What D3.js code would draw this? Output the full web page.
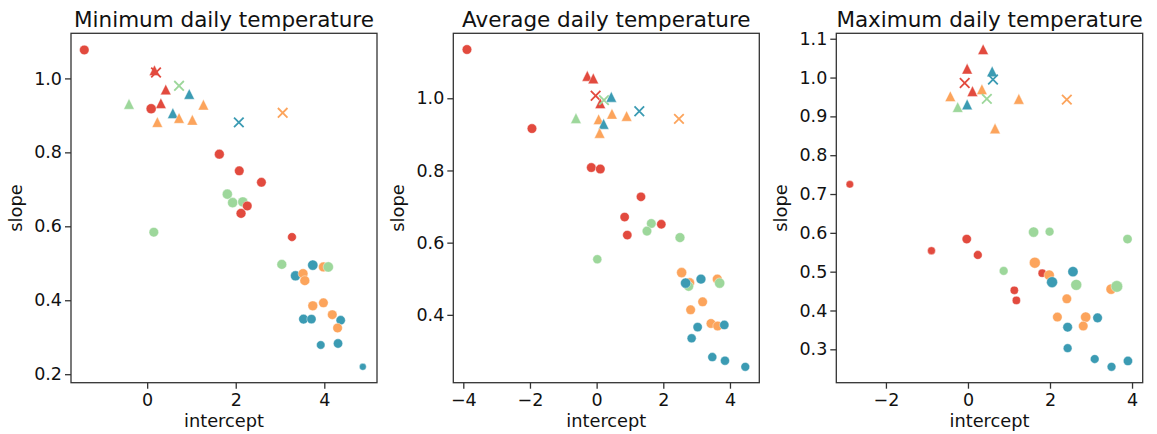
<!DOCTYPE html>
<meta charset="utf-8">
<html>
<head>
<style>
  body { margin: 0; background: #fff; }
  svg { font-family: "DejaVu Sans", sans-serif; }
  .tick text { font-size: 17.5px; fill: #111; }
  .title { font-size: 21.5px; fill: #111; }
  .lab { font-size: 17.8px; fill: #111; }
</style>
</head>
<body>
<svg width="1157" height="434" id="chart"></svg>
<script src="https://d3js.org/d3.v7.min.js"></script>
<script>
// groups (colour) and marker kinds
var groups = ["g1", "g2", "g3", "g4"];
var groupColors = ["#e24a3e", "#fca45c", "#9dd79b", "#3b9bb3"];

// rows: [intercept, slope, group, kind, weight]
var minData = [
  [0.165, 1.022, 0, "^"], [0.20, 1.016, 0, "x"], [0.72, 0.98, 2, "x"], [0.42, 0.970, 0, "^"],
  [0.95, 0.958, 3, "^"], [-0.41, 0.931, 2, "^"], [0.31, 0.933, 0, "^"], [1.27, 0.929, 1, "^"],
  [0.58, 0.906, 3, "^"], [0.72, 0.893, 1, "^"], [1.02, 0.888, 1, "^"], [0.23, 0.882, 1, "^"],
  [2.07, 0.881, 3, "x"], [3.06, 0.907, 1, "x"],
  [-1.42, 1.077, 0, "o", 19], [0.09, 0.918, 0, "o", 21], [1.63, 0.795, 0, "o", 20],
  [2.08, 0.750, 0, "o", 19], [2.58, 0.719, 0, "o", 19], [1.81, 0.687, 2, "o", 21],
  [1.93, 0.664, 2, "o", 21], [2.16, 0.666, 2, "o", 21], [2.26, 0.655, 0, "o", 19],
  [2.12, 0.635, 0, "o", 20], [0.15, 0.584, 2, "o", 19], [3.27, 0.571, 0, "o", 16],
  [3.04, 0.497, 2, "o", 20], [3.35, 0.466, 3, "o", 21], [3.74, 0.495, 3, "o", 22],
  [3.52, 0.472, 1, "o", 20], [3.56, 0.453, 1, "o", 20], [3.98, 0.490, 1, "o", 20],
  [4.09, 0.490, 2, "o", 22], [3.53, 0.349, 3, "o", 19], [3.71, 0.349, 3, "o", 18],
  [4.37, 0.346, 3, "o", 18], [3.92, 0.279, 3, "o", 15], [4.31, 0.283, 3, "o", 18],
  [4.87, 0.220, 3, "o", 10], [3.74, 0.385, 1, "o", 20], [3.98, 0.393, 1, "o", 19],
  [4.18, 0.361, 1, "o", 19], [4.30, 0.325, 1, "o", 19]
];

var avgData = [
  [-0.28, 1.062, 0, "^"], [-0.10, 1.055, 0, "^"], [-0.03, 1.007, 0, "x"], [0.11, 0.986, 0, "^"],
  [0.22, 0.995, 2, "x"], [0.44, 1.004, 3, "^"], [1.28, 0.964, 3, "x"], [2.47, 0.943, 1, "x"],
  [-0.62, 0.945, 2, "^"], [0.06, 0.942, 1, "^"], [0.46, 0.957, 1, "^"], [0.90, 0.951, 1, "^"],
  [0.21, 0.929, 3, "^"], [0.09, 0.904, 1, "^"],
  [-3.89, 1.135, 0, "o", 19], [-1.94, 0.916, 0, "o", 19], [-0.16, 0.808, 0, "o", 19],
  [0.11, 0.804, 0, "o", 19], [1.33, 0.727, 0, "o", 18], [0.84, 0.671, 0, "o", 18],
  [1.94, 0.651, 0, "o", 18], [0.92, 0.621, 0, "o", 18], [1.64, 0.653, 2, "o", 19],
  [1.51, 0.632, 2, "o", 19], [2.50, 0.614, 2, "o", 20], [0.02, 0.554, 2, "o", 17],
  [2.55, 0.517, 1, "o", 21], [3.62, 0.499, 1, "o", 20], [2.79, 0.489, 1, "o", 20],
  [3.18, 0.436, 1, "o", 19], [2.82, 0.414, 1, "o", 19], [3.43, 0.376, 1, "o", 19],
  [3.63, 0.369, 1, "o", 19], [2.76, 0.479, 2, "o", 20], [3.69, 0.488, 2, "o", 22],
  [3.13, 0.499, 3, "o", 20], [2.67, 0.488, 3, "o", 22], [3.03, 0.366, 3, "o", 18],
  [3.83, 0.372, 3, "o", 18], [2.85, 0.335, 3, "o", 17], [3.47, 0.283, 3, "o", 17],
  [3.85, 0.273, 3, "o", 17], [4.46, 0.256, 3, "o", 16]
];

var maxData = [
  [0.37, 1.073, 0, "^"], [-0.02, 1.023, 0, "^"], [0.59, 1.016, 3, "^"], [0.61, 0.995, 3, "x"],
  [-0.08, 0.986, 0, "x"], [0.11, 0.965, 0, "^"], [0.34, 0.970, 1, "^"], [-0.43, 0.952, 1, "^"],
  [-0.25, 0.924, 2, "^"], [-0.02, 0.931, 3, "^"], [0.46, 0.945, 2, "x"], [1.24, 0.945, 1, "^"],
  [2.41, 0.943, 1, "x"], [0.66, 0.869, 1, "^"],
  [-2.88, 0.725, 0, "o", 12], [-0.89, 0.554, 0, "o", 13], [-0.03, 0.584, 0, "o", 18],
  [0.24, 0.543, 0, "o", 16], [1.81, 0.496, 0, "o", 14], [1.13, 0.452, 0, "o", 14],
  [1.18, 0.426, 0, "o", 14], [0.87, 0.502, 2, "o", 16], [1.60, 0.602, 2, "o", 22],
  [1.99, 0.603, 2, "o", 16], [3.89, 0.584, 2, "o", 18], [1.63, 0.523, 1, "o", 25],
  [1.98, 0.491, 1, "o", 22], [2.41, 0.430, 1, "o", 19], [2.18, 0.383, 1, "o", 19],
  [2.87, 0.383, 1, "o", 22], [2.81, 0.360, 1, "o", 19], [3.49, 0.455, 1, "o", 22],
  [2.05, 0.473, 3, "o", 25], [2.56, 0.500, 3, "o", 22], [2.43, 0.357, 3, "o", 19],
  [3.16, 0.381, 3, "o", 19], [2.43, 0.303, 3, "o", 16], [3.09, 0.275, 3, "o", 16],
  [3.50, 0.255, 3, "o", 16], [3.90, 0.270, 3, "o", 18], [2.64, 0.466, 2, "o", 25],
  [3.63, 0.462, 2, "o", 28]
];

var titles = ["Minimum daily temperature", "Average daily temperature", "Maximum daily temperature"];
var xTickValues = [[0, 2, 4], [-4, -2, 0, 2, 4], [-2, 0, 2, 4]];
var yTickValues = [[0.2, 0.4, 0.6, 0.8, 1.0], [0.4, 0.6, 0.8, 1.0], [0.3, 0.4, 0.5, 0.6, 0.7, 0.8, 0.9, 1.0, 1.1]];

var svg = d3.select("#chart");
var top0 = 33.3, bottom0 = 382.7;
var panels = [
  { data: minData, left: 71, right: 377, xd: [-1.72, 5.19], yd: [0.177, 1.122] },
  { data: avgData, left: 453.3, right: 759.3, xd: [-4.30, 4.88], yd: [0.212, 1.180] },
  { data: maxData, left: 836.3, right: 1142.7, xd: [-3.21, 4.26], yd: [0.214, 1.114] }
];

var fmtX = function (d) { return d < 0 ? "\u2212" + Math.abs(d) : "" + d; };
var fmtY = d3.format(".1f");

// matplotlib style "^": width == height
var tri = function (h) { return "M0," + (-h) + "L" + h + "," + h + "L" + (-h) + "," + h + "Z"; };
var cross = function (h) { return "M" + (-h) + "," + (-h) + "L" + h + "," + h + "M" + (-h) + "," + h + "L" + h + "," + (-h); };

panels.forEach(function (p, i) {
  var x = d3.scaleLinear().domain(p.xd).range([p.left, p.right]);
  var y = d3.scaleLinear().domain(p.yd).range([bottom0, top0]);
  var g = svg.append("g");

  // markers
  var pts = g.append("g");
  p.data.forEach(function (d) {
    var col = groupColors[d[2]];
    var node = pts.append("path")
      .attr("transform", "translate(" + x(d[0]) + "," + y(d[1]) + ")");
    if (d[3] === "o") {
      node.attr("d", d3.symbol().type(d3.symbolCircle).size(Math.PI * d[4] * 1.2)())
        .attr("fill", col).attr("stroke", "#fff").attr("stroke-width", 0.4);
    } else if (d[3] === "^") {
      node.attr("d", tri(5.3))
        .attr("fill", col).attr("stroke", "#fff").attr("stroke-width", 0.4);
    } else {
      node.attr("d", cross(4.8))
        .attr("fill", "none").attr("stroke", col).attr("stroke-width", 1.8);
    }
  });

  // frame
  g.append("rect")
    .attr("x", p.left).attr("y", top0)
    .attr("width", p.right - p.left).attr("height", bottom0 - top0)
    .attr("fill", "none").attr("stroke", "#333").attr("stroke-width", 1.3);

  // axes
  var ax = g.append("g")
    .attr("transform", "translate(0," + bottom0 + ")")
    .call(d3.axisBottom(x).tickValues(xTickValues[i]).tickFormat(fmtX).tickSize(6).tickPadding(5));
  var ay = g.append("g")
    .attr("transform", "translate(" + p.left + ",0)")
    .call(d3.axisLeft(y).tickValues(yTickValues[i]).tickFormat(fmtY).tickSize(6).tickPadding(3));
  [ax, ay].forEach(function (a) {
    a.select(".domain").remove();
    a.selectAll(".tick line").attr("stroke", "#333").attr("stroke-width", 1.3);
    a.attr("font-family", null).attr("font-size", null);
  });

  // labels
  g.append("text").attr("class", "title")
    .attr("x", (p.left + p.right) / 2).attr("y", 26.5)
    .attr("text-anchor", "middle").text(titles[i]);
  g.append("text").attr("class", "lab")
    .attr("x", (p.left + p.right) / 2).attr("y", 426.5)
    .attr("text-anchor", "middle").text("intercept");
  g.append("text").attr("class", "lab")
    .attr("transform", "translate(" + (p.left - 49) + "," + ((top0 + bottom0) / 2) + ") rotate(-90)")
    .attr("text-anchor", "middle").text("slope");
});
</script>
</body>
</html>
